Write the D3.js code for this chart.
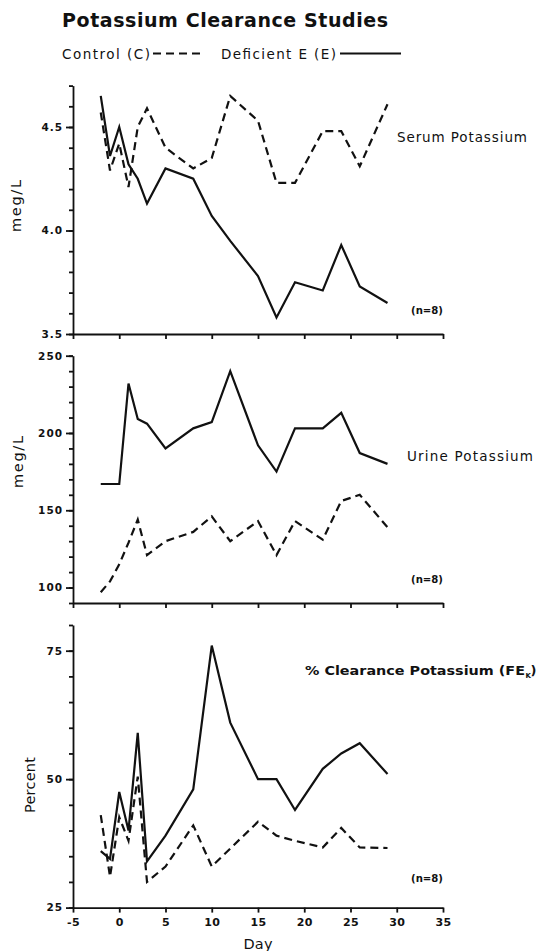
<!DOCTYPE html>
<html>
<head>
<meta charset="utf-8">
<script src="https://cdn.jsdelivr.net/npm/d3@7"></script>
<style>
  body { margin: 0; background: #fff; }
  text { font-family: "DejaVu Sans", "Liberation Sans", Arial, sans-serif; fill: #111; }
</style>
</head>
<body>
<svg id="chart" width="538" height="951"></svg>
<script>
// days on which samples were taken
const days = [-2, -1, 0, 1, 2, 3, 5, 8, 10, 12, 15, 17, 19, 22, 24, 26, 29]

// serum potassium, meg/L
const serumE = [4.65, 4.36, 4.50, 4.32, 4.25, 4.13, 4.30, 4.25, 4.07, 3.95, 3.78, 3.58, 3.75, 3.71, 3.93, 3.73, 3.65]
const serumC = [4.57, 4.29, 4.42, 4.21, 4.50, 4.59, 4.40, 4.30, 4.35, 4.65, 4.53, 4.23, 4.23, 4.48, 4.48, 4.31, 4.61]

// urine potassium, meg/L
const urineE = [167, 167, 167, 232, 209, 206, 190, 203, 207, 240, 192, 175, 203, 203, 213, 187, 180]
const urineC = [97, 104, 115, 129, 144, 121, 130, 136, 146, 130, 143, 121, 143, 131, 156, 160, 139]

// fractional excretion of potassium, percent
const clearE = [36, 34.5, 47.5, 40, 59, 34, 39, 48, 76, 61, 50, 50, 44, 52, 55, 57, 51]
const clearC = [43, 31, 42.6, 38, 50.5, 30, 33, 41, 33, 36.5, 41.7, 39, 38, 36.7, 40.5, 36.7, 36.6]

const xTicks = [-5, 0, 5, 10, 15, 20, 25, 30, 35]
const serumTicks = [3.5, 4.0, 4.5]
const urineTicks = [100, 150, 200, 250]
const clearTicks = [25, 50, 75]

const FONT = '"DejaVu Sans", "Liberation Sans", Arial, sans-serif'
const svg = d3.select('#chart')
const x = d3.scaleLinear().domain([-5, 35]).range([73, 443])

const panels = [
  {E: serumE, C: serumC, domain: [3.5, 4.7], range: [334, 85.6], major: serumTicks, minorN: 12,
   fmt: d3.format('.1f'), unit: 'meg/L', unitX: 21, unitY: 206, unitLen: 52, nY: 314},
  {E: urineE, C: urineC, domain: [90, 250], range: [603, 355.7], major: urineTicks, minorN: 16,
   fmt: d3.format('d'), unit: 'meg/L', unitX: 23, unitY: 462, unitLen: 52, nY: 583},
  {E: clearE, C: clearC, domain: [25, 80], range: [907.6, 625], major: clearTicks, minorN: 11,
   fmt: d3.format('d'), unit: 'Percent', unitX: 35, unitY: 785, unitLen: 56, nY: 882}
]

panels.forEach((p, i) => {
  const y = d3.scaleLinear().domain(p.domain).range(p.range)
  const g = svg.append('g')

  // minor ticks
  g.append('g')
    .attr('transform', 'translate(73,0)')
    .call(d3.axisLeft(y).tickValues(d3.ticks(p.domain[0], p.domain[1], p.minorN)).tickSize(4).tickFormat(''))
    .call(a => a.select('.domain').remove())

  // major ticks + labels + axis line
  g.append('g')
    .attr('transform', 'translate(73,0)')
    .call(d3.axisLeft(y).tickValues(p.major).tickSize(7).tickPadding(3).tickSizeOuter(0).tickFormat(p.fmt))
    .call(a => a.selectAll('text')
      .attr('font-size', 10.5).attr('font-weight', 'bold').attr('letter-spacing', 1)
      .attr('font-family', FONT).attr('fill', '#111'))

  // bottom axis
  const xa = g.append('g')
    .attr('transform', `translate(0,${p.range[0]})`)
    .call(d3.axisBottom(x).tickValues(xTicks).tickSize(5).tickSizeOuter(0)
      .tickPadding(6).tickFormat(i === 2 ? d => String(d) : ''))
  xa.selectAll('text')
    .attr('font-size', 11).attr('font-weight', 'bold').attr('letter-spacing', 0.4)
    .attr('font-family', FONT).attr('fill', '#111')

  g.selectAll('.domain, .tick line').attr('stroke', '#111').attr('stroke-width', 1.8)

  const line = d3.line().x((d, k) => x(days[k])).y(d => y(d))

  g.append('path').datum(p.C)
    .attr('d', line).attr('fill', 'none').attr('stroke', '#111')
    .attr('stroke-width', 2.2).attr('stroke-dasharray', '8,5')
  g.append('path').datum(p.E)
    .attr('d', line).attr('fill', 'none').attr('stroke', '#111')
    .attr('stroke-width', 2.2)

  g.append('text')
    .attr('transform', `translate(${p.unitX},${p.unitY}) rotate(-90)`)
    .attr('text-anchor', 'middle').attr('font-size', 14.5)
    .attr('textLength', p.unitLen).attr('lengthAdjust', 'spacing')
    .text(p.unit)

  g.append('text')
    .attr('x', 411).attr('y', p.nY)
    .attr('font-size', 10).attr('font-weight', 'bold')
    .attr('textLength', 32).attr('lengthAdjust', 'spacingAndGlyphs')
    .text('(n=8)')
})

// panel labels
svg.append('text').attr('x', 397).attr('y', 142).attr('font-size', 13.5)
  .attr('textLength', 130).attr('lengthAdjust', 'spacing').text('Serum Potassium')
svg.append('text').attr('x', 407).attr('y', 460.5).attr('font-size', 13.5)
  .attr('textLength', 126).attr('lengthAdjust', 'spacing').text('Urine Potassium')
svg.append('text').attr('x', 305).attr('y', 675).attr('font-size', 13).attr('font-weight', 'bold')
  .attr('textLength', 220).attr('lengthAdjust', 'spacingAndGlyphs').text('% Clearance Potassium (FE')
svg.append('text').attr('x', 525.5).attr('y', 678).attr('font-size', 7).attr('font-weight', 'bold').text('K')
svg.append('text').attr('x', 530.5).attr('y', 675).attr('font-size', 13).attr('font-weight', 'bold').text(')')

// x axis title
svg.append('text').attr('x', 258).attr('y', 949).attr('text-anchor', 'middle')
  .attr('font-size', 14.5).attr('textLength', 29).attr('lengthAdjust', 'spacing').text('Day')

// title
svg.append('text').attr('x', 62).attr('y', 27).attr('font-size', 19).attr('font-weight', 'bold')
  .attr('textLength', 326).attr('lengthAdjust', 'spacing').text('Potassium Clearance Studies')

// legend
svg.append('text').attr('x', 62).attr('y', 59).attr('font-size', 13.5)
  .attr('textLength', 88).attr('lengthAdjust', 'spacing').text('Control (C)')
svg.append('line').attr('x1', 153).attr('x2', 200).attr('y1', 53.5).attr('y2', 53.5)
  .attr('stroke', '#111').attr('stroke-width', 2).attr('stroke-dasharray', '8,5')
svg.append('text').attr('x', 221).attr('y', 59).attr('font-size', 13.5)
  .attr('textLength', 115).attr('lengthAdjust', 'spacing').text('Deficient E (E)')
svg.append('line').attr('x1', 340).attr('x2', 401).attr('y1', 53.5).attr('y2', 53.5)
  .attr('stroke', '#111').attr('stroke-width', 2)
</script>
</body>
</html>
